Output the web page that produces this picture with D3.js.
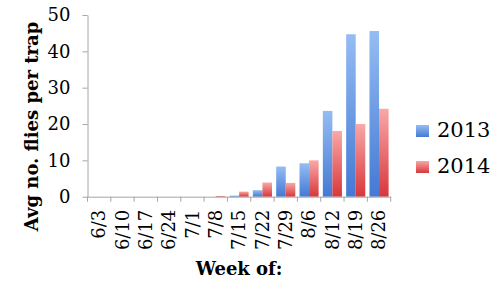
<!DOCTYPE html>
<html><head><meta charset="utf-8">
<script src="https://cdn.jsdelivr.net/npm/d3@7/dist/d3.min.js"></script>
<style>body{margin:0;background:#fff}svg{display:block}</style>
</head><body>
<script>
const weeks = ["6/3","6/10","6/17","6/24","7/1","7/8","7/15","7/22","7/29","8/6","8/12","8/19","8/26"];
const y2013 = [0,0,0,0,0,0,0.3,1.8,8.3,9.2,23.6,44.7,45.6];
const y2014 = [0,0,0,0,0,0.2,1.4,3.9,3.8,10.0,18.1,20.0,24.2];
const seriesNames = ["2013","2014"];
const yTicks = [0,10,20,30,40,50];

(function(){
const W=500,H=287;
const svg=d3.select("body").append("svg").attr("width",W).attr("height",H);
const defs=svg.append("defs");
const grads=[["g2013","#95bdf3","#4479d4"],["g2014","#f9a8a8","#d8373a"]];
grads.forEach(([id,c1,c2])=>{
  const g=defs.append("linearGradient").attr("id",id).attr("x1",0).attr("y1",0).attr("x2",0).attr("y2",1);
  g.append("stop").attr("offset","0%").attr("stop-color",c1);
  g.append("stop").attr("offset","100%").attr("stop-color",c2);
});
const mL=87.5,mR=390.7,mT=15,mB=196.7;
const x=d3.scaleBand().domain(weeks).range([mL,mR]).paddingInner(0).paddingOuter(0);
const x1=d3.scaleBand().domain(seriesNames).range([0,x.bandwidth()]).paddingInner(0).paddingOuter(0.22);
const y=d3.scaleLinear().domain([0,50]).range([mB,mT]);

const data=weeks.map((w,i)=>({w,vals:[{s:"2013",v:y2013[i]},{s:"2014",v:y2014[i]}]}));
const grp=svg.append("g").selectAll("g").data(data).join("g").attr("transform",d=>`translate(${x(d.w)},0)`);
grp.selectAll("rect").data(d=>d.vals).join("rect")
  .attr("x",d=>x1(d.s)).attr("width",x1.bandwidth())
  .attr("y",d=>y(d.v)).attr("height",d=>mB-y(d.v))
  .attr("fill",d=>`url(#g${d.s})`);

const ya=svg.append("g").attr("transform",`translate(${mL},0)`)
  .call(d3.axisLeft(y).tickValues(yTicks).tickSize(5).tickSizeOuter(0).tickPadding(12));
ya.select(".domain").attr("stroke","#a6a6a6");
ya.selectAll(".tick line").attr("stroke","#a6a6a6");
ya.selectAll("text").attr("font-family","DejaVu Serif").attr("font-size",18).attr("fill","#000");

const xa=svg.append("g").attr("transform",`translate(0,${mB})`)
  .call(d3.axisBottom(x).tickSize(0).tickSizeOuter(0));
xa.select(".domain").attr("stroke","#a6a6a6");
xa.selectAll(".tick text").attr("font-family","DejaVu Serif").attr("font-size",18).attr("fill","#000")
  .attr("transform","rotate(-90)").attr("text-anchor","end").attr("x",-13).attr("y",0).attr("dy","0.35em");
xa.append("g").selectAll("line").data(weeks.concat(["end"])).join("line")
  .attr("x1",(d,i)=>mL+i*x.step()).attr("x2",(d,i)=>mL+i*x.step())
  .attr("y1",0).attr("y2",5).attr("stroke","#a6a6a6");

svg.append("text").attr("transform",`translate(38,126.5) rotate(-90)`)
  .attr("text-anchor","middle").attr("font-family","DejaVu Serif").attr("font-weight","bold")
  .attr("font-size",18).text("Avg no. flies per trap");
svg.append("text").attr("x",(mL+mR)/2).attr("y",275).attr("text-anchor","middle")
  .attr("font-family","DejaVu Serif").attr("font-weight","bold").attr("font-size",18).text("Week of:");

const lg=svg.append("g").selectAll("g").data(seriesNames).join("g")
  .attr("transform",(d,i)=>`translate(416,${125+i*36})`);
lg.append("rect").attr("width",13).attr("height",12).attr("fill",d=>`url(#g${d})`);
lg.append("text").attr("x",21).attr("y",12).attr("font-family","DejaVu Serif").attr("font-size",21).text(d=>d);
})();
</script>
</body></html>
